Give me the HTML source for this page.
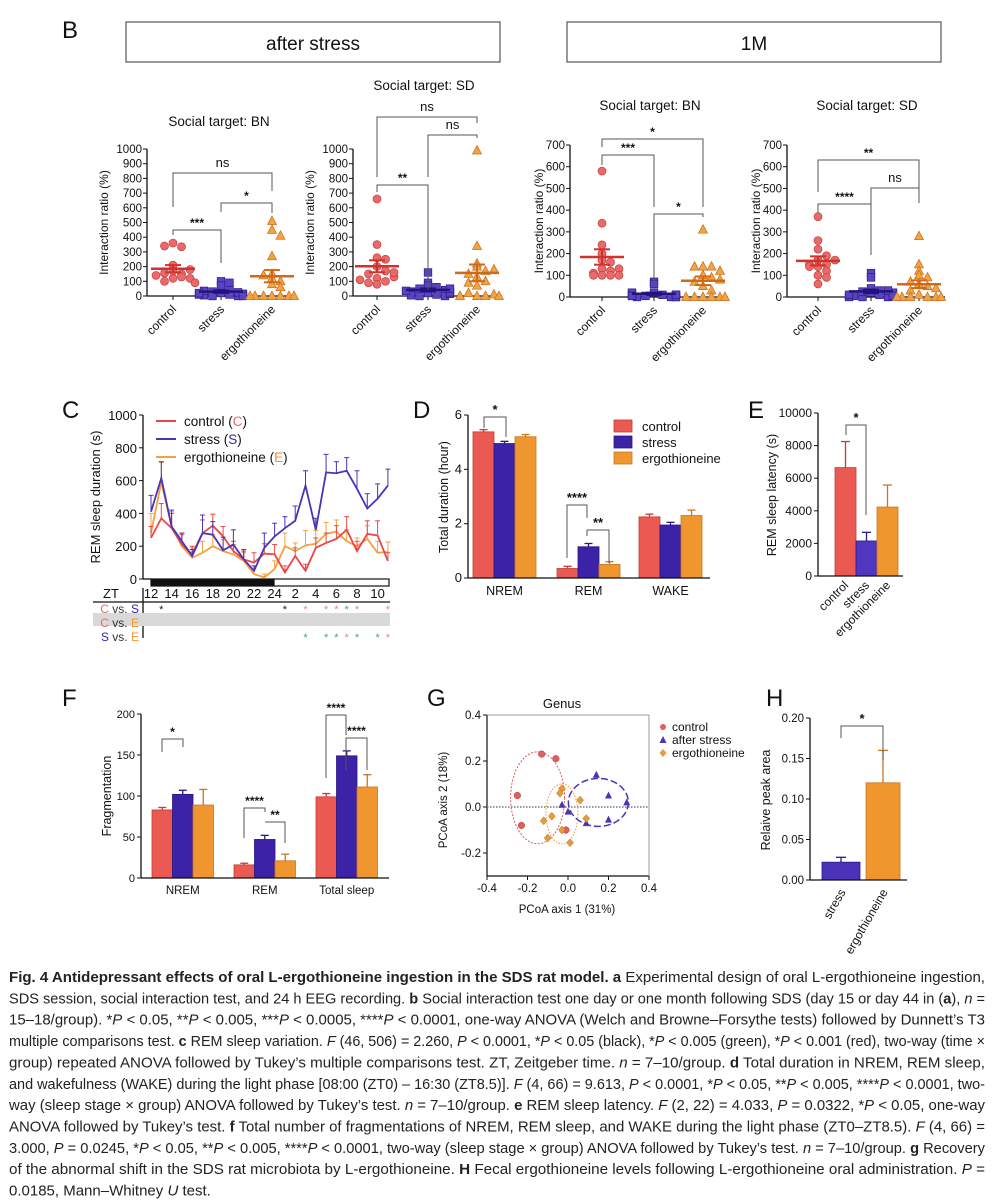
<!DOCTYPE html>
<html><head><meta charset="utf-8">
<style>
html,body{margin:0;padding:0;background:#fff;}
svg{display:block;font-family:"Liberation Sans",sans-serif;}
</style></head>
<body>
<svg id="fig" width="1006" height="1200" viewBox="0 0 1006 1200" xmlns="http://www.w3.org/2000/svg">
<rect x="0" y="0" width="1006" height="1200" fill="#fff"/>
</svg>
<script>
// ===== Panel B data =====
const bGroups = ["control","stress","ergothioneine"];
const b1Control = [360,335,340,210,170,150,120,130,100,120,140,90,155,180];
const b1Stress = [100,90,70,40,30,20,10,0,0,5,15,25,35,10,0,20];
const b1Ergo = [510,450,410,270,150,120,100,80,60,0,0,0,0,0,0,0,140];
const b2Control = [660,350,260,250,200,170,150,120,100,90,130,110,80,160];
const b2Stress = [160,90,70,60,50,40,30,20,10,0,0,5,15,25,35,50];
const b2Ergo = [990,340,220,200,170,150,130,100,90,70,0,0,20,10,0,0,180];
const b3Control = [580,340,240,200,170,130,100,120,100,110,100,130,100,160];
const b3Stress = [70,60,20,10,5,0,0,10,15,0,5,10,20,0,5,10];
const b3Ergo = [310,140,140,140,120,100,90,70,50,30,0,0,0,0,0,0,80];
const b4Control = [370,260,220,190,170,150,150,140,120,100,90,60,140,170];
const b4Stress = [110,90,40,30,20,10,0,0,5,15,25,0,20,30,10,5];
const b4Ergo = [280,150,120,100,90,70,60,50,30,10,0,0,0,0,0,0,40];
const bYTicks1 = [0,100,200,300,400,500,600,700,800,900,1000];
const bYTicks2 = [0,100,200,300,400,500,600,700];
// ===== Panel C data =====
const cTicks = ["12","14","16","18","20","22","24","2","4","6","8","10"];
const cControl = [250,370,310,210,150,280,325,260,170,120,100,155,150,40,140,50,190,220,245,300,170,275,265,110];
const cControlErr = [70,90,90,60,50,80,70,60,60,50,60,60,60,40,50,40,60,60,80,80,60,80,90,50];
const cStress = [410,615,320,230,140,280,270,175,210,120,50,190,260,310,355,570,300,650,645,660,550,430,490,570];
const cStressErr = [100,100,100,50,40,110,80,80,90,60,30,90,80,70,90,90,70,110,70,80,110,90,90,100];
const cErgo = [280,590,320,200,130,160,200,170,150,110,30,10,60,200,170,205,215,275,290,230,200,245,160,165];
const cErgoErr = [120,120,90,80,60,70,70,70,60,50,30,20,50,80,50,90,80,70,70,70,50,80,70,60];
const cYTicks = [0,200,400,600,800,1000];
const sigCS = [[1,"#222"],[13,"#222"],[15,"#f07f86"],[17,"#f07f86"],[18,"#f07f86"],[19,"#3f9f97"],[20,"#f07f86"],[23,"#f07f86"]];
const sigSE = [[15,"#3f9f97"],[17,"#3f9f97"],[18,"#3f9f97"],[19,"#f07f86"],[20,"#3f9f97"],[22,"#3f9f97"],[23,"#f07f86"]];
// ===== Panel D data =====
const dCats = ["NREM","REM","WAKE"];
const dControl = [5.38,0.35,2.25];
const dStress = [4.95,1.15,1.95];
const dErgo = [5.2,0.5,2.3];
const dErrC = [0.08,0.08,0.1];
const dErrS = [0.08,0.12,0.1];
const dErrE = [0.08,0.1,0.2];
const dYTicks = [0,2,4,6];
// ===== Panel E data =====
const eCats = ["control","stress","ergothioneine"];
const eVals = [6650,2150,4230];
const eErr = [1600,530,1350];
const eYTicks = [0,2000,4000,6000,8000,10000];
// ===== Panel F data =====
const fCats = ["NREM","REM","Total sleep"];
const fControl = [83,16,99];
const fStress = [102,47,149];
const fErgo = [89,21,111];
const fErrC = [3,2,4];
const fErrS = [5,5,6];
const fErrE = [19,8,15];
const fYTicks = [0,50,100,150,200];
// ===== Panel G data =====
const gControlX = [-0.13,-0.06,-0.25,-0.23,-0.01];
const gControlY = [0.23,0.21,0.05,-0.08,-0.10];
const gStressX = [0.14,0.20,0.29,-0.03,0.00,0.09,0.20];
const gStressY = [0.14,0.05,0.02,0.01,-0.02,-0.07,-0.055];
const gErgoX = [-0.03,-0.04,0.06,-0.08,-0.12,0.09,-0.03,-0.10,0.01];
const gErgoY = [0.08,0.06,0.03,-0.04,-0.06,-0.05,-0.10,-0.135,-0.155];
const gXTicks = [-0.4,-0.2,0.0,0.2,0.4];
const gYTicks = [-0.2,0.0,0.2,0.4];
// ===== Panel H data =====
const hCats = ["stress","ergothioneine"];
const hVals = [0.022,0.12];
const hErr = [0.006,0.04];
const hYTicks = [0.00,0.05,0.10,0.15,0.20];

const NS="http://www.w3.org/2000/svg";
const svg=document.getElementById('fig');
const RED="#ea5a52",BLUE="#3b22a6",ORG="#f0962f";
const CRED="#e86a6a",CBLUE="#5b43c4",CORG="#f2a441";
function el(tag,attrs,parent){const e=document.createElementNS(NS,tag);for(const k in attrs)e.setAttribute(k,attrs[k]);(parent||svg).appendChild(e);return e;}
function txt(x,y,s,size,opts,parent){opts=opts||{};const t=el('text',{x:x,y:y,'font-size':size,fill:opts.fill||'#111','text-anchor':opts.anchor||'start'},parent);if(opts.weight)t.setAttribute('font-weight',opts.weight);if(opts.rot!==undefined)t.setAttribute('transform','rotate('+opts.rot+' '+x+' '+y+')');t.textContent=s;return t;}
function line(x1,y1,x2,y2,stroke,w,parent){return el('line',{x1:x1,y1:y1,x2:x2,y2:y2,stroke:stroke||'#111','stroke-width':w||1.2},parent);}
function bracket(g,x1,b1,x2,b2,yt,label,size){
  const p=el('path',{d:'M'+x1+' '+b1+'V'+yt+'H'+x2+'V'+b2,fill:'none',stroke:'#555','stroke-width':1},g);
  
  
  const t=txt((x1+x2)/2,yt-(label==='ns'?6:3),label,size||12,{anchor:'middle',weight:label==='ns'?null:'bold'},g);
  
  
}
function group(name){const g=el('g',{});return g;}

// ===== Panel letters & headers =====
[["B",62,38],["C",62,418],["D",413,418],["E",748,418],["F",62,706],["G",427,706],["H",766,706]].forEach(a=>{const t=txt(a[1],a[2],a[0],24,{});});
const hb1=el('rect',{x:126,y:22,width:374,height:40,fill:'none',stroke:'#555','stroke-width':1.2});

txt(313,50,'after stress',19,{anchor:'middle'});
const hb2=el('rect',{x:567,y:22,width:374,height:40,fill:'none',stroke:'#555','stroke-width':1.2});

txt(754,50,'1M',19,{anchor:'middle'});

// ===== Panel B scatter plots =====
function scatterPanel(name,cfg){
  const g=group(name);
  const ax=cfg.ax,y0=cfg.y0,yTop=cfg.yTop,max=cfg.max;
  const ys=v=>y0-(v/max)*(y0-yTop);
  txt(cfg.titleX,cfg.titleY,cfg.title,13.5,{anchor:'middle'},g);
  line(ax,yTop,ax,y0,'#111',1.3,g);line(ax,y0,cfg.xEnd,y0,'#111',1.3,g);
  cfg.ticks.forEach(v=>{line(ax-4,ys(v),ax,ys(v),'#111',1,g);const t=txt(ax-5,ys(v)+4,String(v),11.5,{anchor:'end'},g);});
  const yl=txt(cfg.ylX,(y0+yTop)/2,'Interaction ratio (%)',12,{anchor:'middle',rot:-90},g);
  const sets=[[cfg.c,'circle',CRED,'#c83c3a','#d2322c'],[cfg.s,'square',CBLUE,'#2c1a88','#24147a'],[cfg.e,'tri',CORG,'#c76a1c','#d06a18']];
  sets.forEach((s,gi)=>{
    const cx=cfg.cats[gi];const vals=s[0];
    line(cx,y0,cx,y0+4,'#111',1,g);
    const lt=txt(cx+4,y0+14,bGroups[gi],12,{anchor:'end',rot:-45},g);
    const counts={};
    vals.forEach((v,i)=>{
      const y=ys(v);const bin=Math.round(y/9);counts[bin]=(counts[bin]||0)+1;const k=counts[bin]-1;
      const off=(k%2?1:-1)*Math.ceil(k/2)*8.5+(k===0?0:0);const x=cx+Math.max(-22,Math.min(22,off));
      let m;
      if(s[1]==='circle')m=el('circle',{cx:x,cy:y,r:4,fill:s[2],stroke:s[3],'stroke-width':0.7},g);
      else if(s[1]==='square')m=el('rect',{x:x-3.8,y:y-3.8,width:7.6,height:7.6,fill:s[2],stroke:s[3],'stroke-width':0.7},g);
      else m=el('path',{d:'M'+x+' '+(y-5)+'L'+(x+4.5)+' '+(y+3.5)+'L'+(x-4.5)+' '+(y+3.5)+'Z',fill:s[2],stroke:s[3],'stroke-width':0.7},g);
      
      
    });
    const mean=vals.reduce((a,b)=>a+b,0)/vals.length;
    const sd=Math.sqrt(vals.reduce((a,b)=>a+(b-mean)*(b-mean),0)/(vals.length-1));const sem=sd/Math.sqrt(vals.length);
    const ml=line(cx-22,ys(mean),cx+22,ys(mean),s[4],2.5,g);
    line(cx,ys(mean+sem),cx,ys(mean-sem),s[4],2,g);
    line(cx-8,ys(mean+sem),cx+8,ys(mean+sem),s[4],2,g);line(cx-8,ys(mean-sem),cx+8,ys(mean-sem),s[4],2,g);
  });
  cfg.brackets.forEach(b=>bracket(g,b[0],b[1],b[2],b[3],b[4],b[5],b[6]));
}
scatterPanel('panel-b-after-stress-bn',{ax:147,y0:296,yTop:149,max:1000,xEnd:296,ticks:bYTicks1,title:'Social target: BN',titleX:219,titleY:126,ylX:108,cats:[173,221,272],c:b1Control,s:b1Stress,e:b1Ergo,
 brackets:[[173,207,272,191,173,'ns',13],[173,235,221,263,230,'***',12],[221,212,272,213,203,'*',12]]});
scatterPanel('panel-b-after-stress-sd',{ax:353,y0:296,yTop:149,max:1000,xEnd:502,ticks:bYTicks1,title:'Social target: SD',titleX:424,titleY:90,ylX:314,cats:[377,428,477],c:b2Control,s:b2Stress,e:b2Ergo,
 brackets:[[377,177,477,123,117,'ns',13],[428,177,477,138,135,'ns',13],[377,192,428,290,185,'**',12]]});
scatterPanel('panel-b-1m-bn',{ax:570,y0:297,yTop:145,max:700,xEnd:728,ticks:bYTicks2,title:'Social target: BN',titleX:650,titleY:110,ylX:543,cats:[602,654,703],c:b3Control,s:b3Stress,e:b3Ergo,
 brackets:[[602,147,703,207,139,'*',12],[602,165,654,207,155,'***',12],[654,285,703,217,214,'*',12]]});
scatterPanel('panel-b-1m-sd',{ax:787,y0:297,yTop:145,max:700,xEnd:945,ticks:bYTicks2,title:'Social target: SD',titleX:867,titleY:110,ylX:760,cats:[818,871,919],c:b4Control,s:b4Stress,e:b4Ergo,
 brackets:[[818,192,919,203,160,'**',12],[818,213,871,255,204,'****',12],[871,204,919,203,188,'ns',13]]});

// ===== Panel C =====
(function(){
  const g=group('panel-c-rem-sleep');
  const ax=143,y0=579,yT=415;
  const xs=i=>151+i*10.3, ys=v=>y0-v/1000*(y0-yT);
  line(ax,yT,ax,y0,'#111',1.3,g);line(ax,y0,151,y0,'#111',1.3,g);
  cYTicks.forEach(v=>{line(ax-4,ys(v),ax,ys(v),'#111',1,g);const t=txt(ax-6,ys(v)+5,String(v),13,{anchor:'end'},g);});
  const yl=txt(100,497,'REM sleep duration (s)',13,{anchor:'middle',rot:-90},g);
  const bar=el('rect',{x:151,y:579,width:238,height:7,fill:'#fff',stroke:'#111','stroke-width':1.2},g);
  el('rect',{x:151,y:579,width:xs(12)-151,height:7,fill:'#111'},g);
  cTicks.forEach((s,i)=>{const t=txt(xs(i*2),598,s,13,{anchor:'middle'},g);});
  txt(111,598,'ZT',13,{anchor:'middle'},g);
  line(93,602,390,602,'#111',1.3,g);line(143,588,143,638,'#111',1.3,g);
  el('rect',{x:93,y:613,width:297,height:13,fill:'#d9d9d9'},g);
  const rows=[[609,'C',CRED,'S',BLUE],[623,'C',CRED,'E',ORG],[637,'S',BLUE,'E',ORG]];
  rows.forEach(r=>{const t=el('text',{x:139,y:r[0]+4,'font-size':12,'text-anchor':'end'},g);
    t.innerHTML='<tspan fill="'+r[2]+'">'+r[1]+'</tspan><tspan fill="#333"> vs. </tspan><tspan fill="'+r[4]+'">'+r[3]+'</tspan>';});
  sigCS.forEach(s=>{const t=txt(xs(s[0]),613,'*',11,{anchor:'middle',fill:s[1]},g);});
  sigSE.forEach(s=>{const t=txt(xs(s[0]),641,'*',11,{anchor:'middle',fill:s[1]},g);});
  const series=[[cErgo,cErgoErr,'#f5a03c','ergothioneine'],[cControl,cControlErr,'#e8474a','control'],[cStress,cStressErr,'#4a33b8','stress']];
  series.forEach(s=>{
    s[0].forEach((v,i)=>{const e=s[1][i];line(xs(i),ys(v),xs(i),ys(v+e),s[2],1,g);line(xs(i)-2.5,ys(v+e),xs(i)+2.5,ys(v+e),s[2],1,g);});
    const p=el('polyline',{points:s[0].map((v,i)=>xs(i)+','+ys(v)).join(' '),fill:'none',stroke:s[2],'stroke-width':1.8},g);
    
  });
  const leg=[['#e8474a','control (','C',CRED],['#4a33b8','stress (','S',BLUE],['#f5a03c','ergothioneine (','E',ORG]];
  leg.forEach((l,i)=>{const y=421+i*18;const ll=line(156,y,176,y,l[0],2,g);
    const t=el('text',{x:184,y:y+5,'font-size':13.5,fill:'#111'},g);
    t.innerHTML=l[1]+'<tspan fill="'+l[3]+'">'+l[2]+'</tspan>)';});
})();

// ===== Grouped bar helper =====
function groupedBars(g,cfg){
  const ys=v=>cfg.y0-v/cfg.max*(cfg.y0-cfg.yT);
  const sets=[[cfg.c,cfg.ec,RED,'#c23b34','control'],[cfg.s,cfg.es,BLUE,'#2a1784','stress'],[cfg.e,cfg.ee,ORG,'#c9761f','ergothioneine']];
  cfg.cats.forEach((cat,ci)=>{
    sets.forEach((s,si)=>{
      const x=cfg.x0[ci]+si*cfg.w, v=s[0][ci], e=s[1][ci];
      line(x+cfg.w/2,ys(v),x+cfg.w/2,ys(v+e),s[3],1.3,g);line(x+cfg.w/2-4,ys(v+e),x+cfg.w/2+4,ys(v+e),s[3],1.3,g);
      const r=el('rect',{x:x,y:ys(v),width:cfg.w,height:cfg.y0-ys(v),fill:s[2],stroke:s[3],'stroke-width':0.8},g);
      
    });
    const t=txt(cfg.x0[ci]+cfg.w*1.5,cfg.y0+(cfg.labDy||17),cat,cfg.labSize||12.5,{anchor:'middle'},g);
  });
  line(cfg.ax,cfg.yT,cfg.ax,cfg.y0,'#111',1.3,g);line(cfg.ax,cfg.y0,cfg.xEnd,cfg.y0,'#111',1.3,g);
  cfg.ticks.forEach(v=>{line(cfg.ax-4,ys(v),cfg.ax,ys(v),'#111',1,g);const t=txt(cfg.ax-6,ys(v)+4,String(v),cfg.tickSize||12,{anchor:'end'},g);});
}

// ===== Panel D =====
(function(){
  const g=group('panel-d-total-duration');
  groupedBars(g,{y0:578,yT:415,max:6,ax:468,xEnd:710,x0:[473,557,639],w:21,cats:dCats,c:dControl,s:dStress,e:dErgo,ec:dErrC,es:dErrS,ee:dErrE,ticks:dYTicks,tickSize:13});
  const yl=txt(448,497,'Total duration (hour)',12.5,{anchor:'middle',rot:-90},g);
  bracket(g,484,428,506,437,417,'*',13);
  bracket(g,567,558,587,518,505,'****',13);
  bracket(g,587,536,609,563,530,'**',13);
  [['control',RED,'#c23b34'],['stress',BLUE,'#2a1784'],['ergothioneine',ORG,'#c9761f']].forEach((l,i)=>{const y=426+i*16;
    const r=el('rect',{x:614,y:y-6,width:18,height:12,fill:l[1],stroke:l[2],'stroke-width':0.8},g);
    const t=txt(642,y+5,l[0],13,{},g);});
})();

// ===== Panel E =====
(function(){
  const g=group('panel-e-rem-latency');
  const y0=576,yT=413,ys=v=>y0-v/10000*(y0-yT);const ax=818;
  const cols=[[RED,'#c23b34'],['#4f37c0','#2a1784'],[ORG,'#c9761f']];
  eVals.forEach((v,i)=>{const x=835+i*21;
    line(x+10.5,ys(v),x+10.5,ys(v+eErr[i]),cols[i][1],1.3,g);line(x+6,ys(v+eErr[i]),x+15,ys(v+eErr[i]),cols[i][1],1.3,g);
    const r=el('rect',{x:x,y:ys(v),width:21,height:y0-ys(v),fill:cols[i][0],stroke:cols[i][1],'stroke-width':0.8},g);
    const t=txt(x+14,y0+10,eCats[i],12,{anchor:'end',rot:-45},g);});
  line(ax,yT,ax,y0,'#111',1.3,g);line(ax,y0,903,y0,'#111',1.3,g);
  eYTicks.forEach(v=>{line(ax-4,ys(v),ax,ys(v),'#111',1,g);const t=txt(ax-6,ys(v)+4,String(v),12,{anchor:'end'},g);});
  const yl=txt(776,495,'REM sleep latency  (s)',12.5,{anchor:'middle',rot:-90},g);
  bracket(g,846,435,866,515,425,'*',13);
})();

// ===== Panel F =====
(function(){
  const g=group('panel-f-fragmentation');
  groupedBars(g,{y0:878,yT:714,max:200,ax:141,xEnd:389,x0:[152,234,316],w:20.5,cats:fCats,c:fControl,s:fStress,e:fErgo,ec:fErrC,es:fErrS,ee:fErrE,ticks:fYTicks,labDy:16,labSize:11.5,tickSize:11});
  const yl=txt(111,796,'Fragmentation',12.5,{anchor:'middle',rot:-90},g);
  bracket(g,162,752,183,747,739,'*',12);
  bracket(g,244,838,265,812,808,'****',12);
  bracket(g,265,822,285,843,822,'**',12);
  bracket(g,326,778,346,735,715,'****',12);
  bracket(g,346,770,367,770,738,'****',12);
})();

// ===== Panel G =====
(function(){
  const g=group('panel-g-pcoa');
  const xs=v=>487+(v+0.4)/0.8*162, ys=v=>807-v/0.1*23;
  txt(562,708,'Genus',13,{anchor:'middle'},g);
  line(487,ys(0.4),487,ys(-0.3),'#111',1.2,g);line(487,ys(-0.3),649,ys(-0.3),'#111',1.2,g);
  line(649,ys(0.4),649,ys(-0.3),'#999',1,g);line(487,ys(0.4),649,ys(0.4),'#999',1,g);
  el('line',{x1:487,y1:ys(0),x2:649,y2:ys(0),stroke:'#777','stroke-width':1.5,'stroke-dasharray':'1.5,1.5'},g);
  gXTicks.forEach(v=>{line(xs(v),ys(-0.3),xs(v),ys(-0.3)+4,'#111',1,g);const t=txt(xs(v),ys(-0.3)+16,v.toFixed(1),11.5,{anchor:'middle'},g);});
  gYTicks.forEach(v=>{line(483,ys(v),487,ys(v),'#111',1,g);const t=txt(481,ys(v)+4,v.toFixed(1),11.5,{anchor:'end'},g);});
  const xl=txt(567,913,'PCoA axis 1 (31%)',11.5,{anchor:'middle'},g);
  const yl=txt(447,800,'PCoA axis 2 (18%)',11.5,{anchor:'middle',rot:-90},g);
  el('ellipse',{cx:xs(-0.15),cy:ys(0.04),rx:27,ry:46,fill:'none',stroke:'#e0595a','stroke-width':1,'stroke-dasharray':'2,1.5'},g);
  el('ellipse',{cx:xs(0.15),cy:ys(0.02),rx:30,ry:24,fill:'none',stroke:'#4a33b8','stroke-width':1.5,'stroke-dasharray':'7,3'},g);
  el('ellipse',{cx:xs(-0.03),cy:ys(-0.03),rx:16,ry:30,fill:'none',stroke:'#f0962f','stroke-width':1,'stroke-dasharray':'1.5,1.5'},g);
  gControlX.forEach((v,i)=>{const c=el('circle',{cx:xs(v),cy:ys(gControlY[i]),r:3.3,fill:'#e06060',stroke:'#b33','stroke-width':0.5},g);});
  gStressX.forEach((v,i)=>{const x=xs(v),y=ys(gStressY[i]);const c=el('path',{d:'M'+x+' '+(y-4)+'L'+(x+3.5)+' '+(y+3)+'L'+(x-3.5)+' '+(y+3)+'Z',fill:'#4a33b8'},g);});
  gErgoX.forEach((v,i)=>{const x=xs(v),y=ys(gErgoY[i]);const c=el('path',{d:'M'+x+' '+(y-4)+'L'+(x+3.5)+' '+y+'L'+x+' '+(y+4)+'L'+(x-3.5)+' '+y+'Z',fill:'#e89a3c',stroke:'#b87020','stroke-width':0.5},g);});
  const lx=663;
  el('circle',{cx:lx,cy:727,r:3,fill:'#e06060'},g);
  el('path',{d:'M'+lx+' 736L'+(lx+3.5)+' 743L'+(lx-3.5)+' 743Z',fill:'#4a33b8'},g);
  el('path',{d:'M'+lx+' 749L'+(lx+3.5)+' 753L'+lx+' 757L'+(lx-3.5)+' 753Z',fill:'#e89a3c'},g);
  ['control','after stress','ergothioneine'].forEach((s,i)=>{const t=txt(672,731+i*13,s,12,{},g);});
})();

// ===== Panel H =====
(function(){
  const g=group('panel-h-peak-area');
  const y0=880,yT=718,ys=v=>y0-v/0.2*(y0-yT);const ax=810;
  const xs=[822,866],ws=[38,34],cols=[['#4a33b8','#2a1784'],[ORG,'#c9761f']];
  hVals.forEach((v,i)=>{const cx=xs[i]+ws[i]/2;
    line(cx,ys(v),cx,ys(v+hErr[i]),cols[i][1],1.3,g);line(cx-5,ys(v+hErr[i]),cx+5,ys(v+hErr[i]),cols[i][1],1.3,g);
    const r=el('rect',{x:xs[i],y:ys(v),width:ws[i],height:y0-ys(v),fill:cols[i][0],stroke:cols[i][1],'stroke-width':0.8},g);
    const t=txt(cx+5,y0+12,hCats[i],12,{anchor:'end',rot:-60},g);});
  line(ax,yT,ax,y0,'#111',1.3,g);line(ax,y0,907,y0,'#111',1.3,g);
  hYTicks.forEach(v=>{line(ax-4,ys(v),ax,ys(v),'#111',1,g);const t=txt(ax-6,ys(v)+4,v.toFixed(2),11.5,{anchor:'end'},g);});
  const yl=txt(770,800,'Relaive peak area',12.5,{anchor:'middle',rot:-90},g);
  bracket(g,841,738,883,760,726,'*',13);
})();

// ===== Caption =====
(function(){
  const g=group('figure-caption');
  const lines=[
   '<tspan font-weight="bold">Fig. 4 Antidepressant effects of oral L-ergothioneine ingestion in the SDS rat model.</tspan> <tspan font-weight="bold">a</tspan> Experimental design of oral L-ergothioneine ingestion,',
   'SDS session, social interaction test, and 24 h EEG recording. <tspan font-weight="bold">b</tspan> Social interaction test one day or one month following SDS (day 15 or day 44 in (<tspan font-weight="bold">a</tspan>), <tspan font-style="italic">n</tspan> =',
   '15–18/group). *<tspan font-style="italic">P</tspan> &lt; 0.05, **<tspan font-style="italic">P</tspan> &lt; 0.005, ***<tspan font-style="italic">P</tspan> &lt; 0.0005, ****<tspan font-style="italic">P</tspan> &lt; 0.0001, one-way ANOVA (Welch and Browne–Forsythe tests) followed by Dunnett’s T3',
   'multiple comparisons test. <tspan font-weight="bold">c</tspan> REM sleep variation. <tspan font-style="italic">F</tspan> (46, 506) = 2.260, <tspan font-style="italic">P</tspan> &lt; 0.0001, *<tspan font-style="italic">P</tspan> &lt; 0.05 (black), *<tspan font-style="italic">P</tspan> &lt; 0.005 (green), *<tspan font-style="italic">P</tspan> &lt; 0.001 (red), two-way (time ×',
   'group) repeated ANOVA followed by Tukey’s multiple comparisons test. ZT, Zeitgeber time. <tspan font-style="italic">n</tspan> = 7–10/group. <tspan font-weight="bold">d</tspan> Total duration in NREM, REM sleep,',
   'and wakefulness (WAKE) during the light phase [08:00 (ZT0) – 16:30 (ZT8.5)]. <tspan font-style="italic">F</tspan> (4, 66) = 9.613, <tspan font-style="italic">P</tspan> &lt; 0.0001, *<tspan font-style="italic">P</tspan> &lt; 0.05, **<tspan font-style="italic">P</tspan> &lt; 0.005, ****<tspan font-style="italic">P</tspan> &lt; 0.0001, two-',
   'way (sleep stage × group) ANOVA followed by Tukey’s test. <tspan font-style="italic">n</tspan> = 7–10/group. <tspan font-weight="bold">e</tspan> REM sleep latency. <tspan font-style="italic">F</tspan> (2, 22) = 4.033, <tspan font-style="italic">P</tspan> = 0.0322, *<tspan font-style="italic">P</tspan> &lt; 0.05, one-way',
   'ANOVA followed by Tukey’s test. <tspan font-weight="bold">f</tspan> Total number of fragmentations of NREM, REM sleep, and WAKE during the light phase (ZT0–ZT8.5). <tspan font-style="italic">F</tspan> (4, 66) =',
   '3.000, <tspan font-style="italic">P</tspan> = 0.0245, *<tspan font-style="italic">P</tspan> &lt; 0.05, **<tspan font-style="italic">P</tspan> &lt; 0.005, ****<tspan font-style="italic">P</tspan> &lt; 0.0001, two-way (sleep stage × group) ANOVA followed by Tukey’s test. <tspan font-style="italic">n</tspan> = 7–10/group. <tspan font-weight="bold">g</tspan> Recovery',
   'of the abnormal shift in the SDS rat microbiota by L-ergothioneine. <tspan font-weight="bold">H</tspan> Fecal ergothioneine levels following L-ergothioneine oral administration. <tspan font-style="italic">P</tspan> =',
   '0.0185, Mann–Whitney <tspan font-style="italic">U</tspan> test.'];
  lines.forEach((s,i)=>{
    const t=el('text',{x:9,y:982+i*21.35,'font-size':15,fill:'#222'},g);
    if(i<lines.length-1){t.setAttribute('textLength',976);t.setAttribute('lengthAdjust','spacingAndGlyphs');}
    
    
    t.innerHTML=s;
  });
})();
</script>
</body></html>
